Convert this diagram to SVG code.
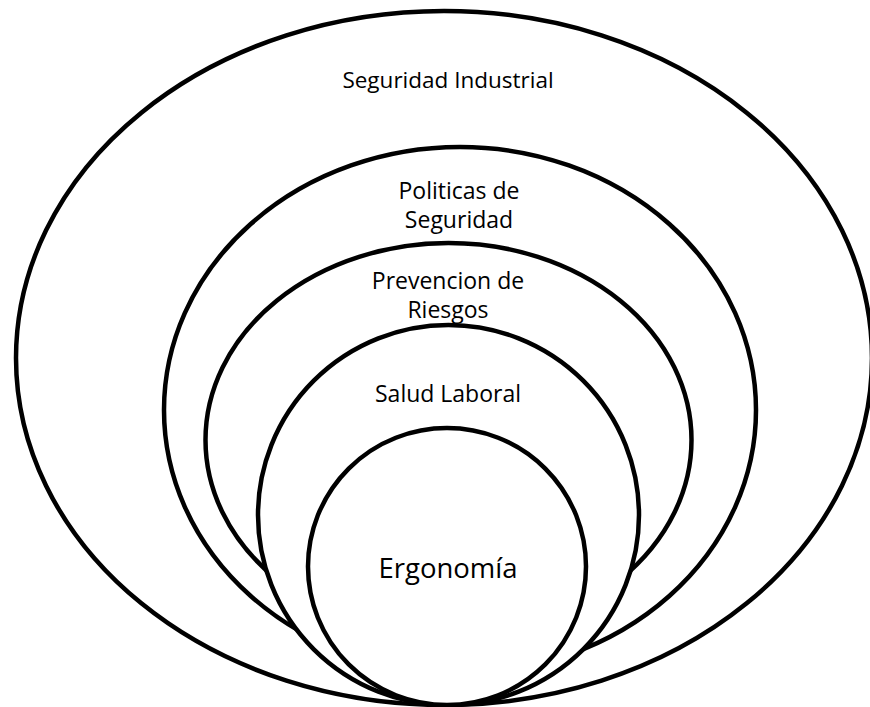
<svg xmlns="http://www.w3.org/2000/svg" width="870" height="707" viewBox="0 0 870 707">
<style>
.e{fill:#fff;stroke:#000;stroke-width:4.5}
.t{font-family:"Open Sans","Liberation Sans",sans-serif;font-size:23px;fill:#000;text-anchor:middle}
.s{font-size:22.5px}
.big{font-size:27.5px}
</style>
<rect width="870" height="707" fill="#fff"/>
<g id="seguridad-industrial">
<ellipse class="e" cx="444" cy="358" rx="428" ry="347"/>
<text class="t s" x="448" y="88">Seguridad Industrial</text>
</g>
<g id="politicas-seguridad">
<ellipse class="e" cx="460" cy="410" rx="296" ry="263"/>
<text class="t" x="459" y="199">Politicas de</text>
<text class="t" x="459" y="228">Seguridad</text>
</g>
<g id="prevencion-riesgos">
<ellipse class="e" cx="448.5" cy="440" rx="243" ry="197"/>
<text class="t" x="448" y="289">Prevencion de</text>
<text class="t" x="448" y="318">Riesgos</text>
</g>
<g id="salud-laboral">
<ellipse class="e" cx="448.5" cy="515" rx="190.5" ry="190"/>
<text class="t" x="448" y="402">Salud Laboral</text>
</g>
<g id="ergonomia">
<ellipse class="e" cx="447" cy="566.5" rx="139" ry="138.5"/>
<text class="t big" x="448" y="578">Ergonomía</text>
</g>
</svg>
